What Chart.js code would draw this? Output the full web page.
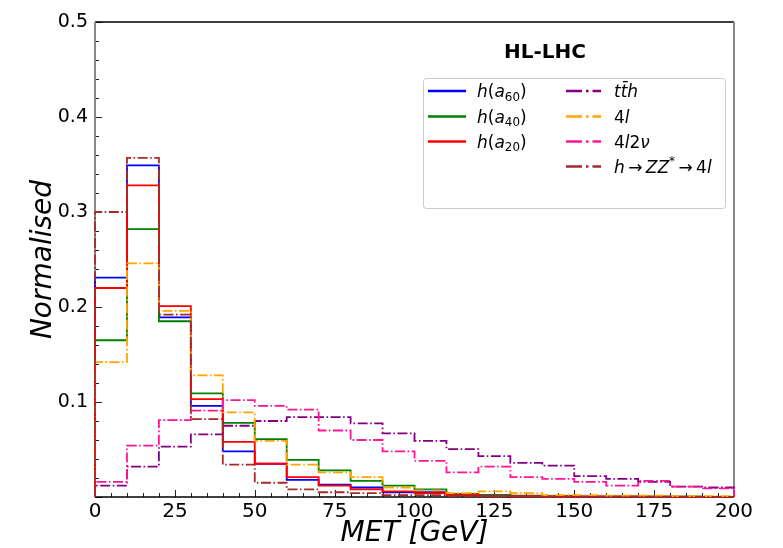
<!DOCTYPE html>
<html>
<head>
<meta charset="utf-8">
<script src="https://cdn.jsdelivr.net/npm/chart.js@4"></script>
<style>
  html, body { margin: 0; padding: 0; background: #fff; }
  canvas { display: block; }
</style>
</head>
<body>
<canvas id="met-chart" width="783" height="548"></canvas>
<script>
// bin edges of the MET histogram [GeV]
const binEdges = [0, 10, 20, 30, 40, 50, 60, 70, 80, 90, 100, 110, 120, 130, 140, 150, 160, 170, 180, 190, 200];

// normalised bin contents
const ha60 = [0.231, 0.349, 0.189, 0.096, 0.048, 0.035, 0.018, 0.013, 0.010, 0.005, 0.005, 0.003, 0.002, 0.001, 0.001, 0.0005, 0.0005, 0.0003, 0.0003, 0.0002];
const ha40 = [0.165, 0.282, 0.185, 0.109, 0.078, 0.061, 0.039, 0.028, 0.017, 0.012, 0.008, 0.003, 0.002, 0.0015, 0.001, 0.0005, 0.0005, 0.0003, 0.0003, 0.0002];
const ha20 = [0.220, 0.328, 0.201, 0.103, 0.058, 0.035, 0.021, 0.012, 0.008, 0.006, 0.004, 0.002, 0.001, 0.001, 0.0005, 0.0005, 0.0003, 0.0003, 0.0002, 0.0002];
const tth = [0.012, 0.032, 0.053, 0.066, 0.075, 0.080, 0.084, 0.084, 0.0775, 0.067, 0.059, 0.0505, 0.043, 0.036, 0.033, 0.022, 0.019, 0.016, 0.011, 0.010];
const fourL = [0.142, 0.246, 0.196, 0.128, 0.089, 0.059, 0.034, 0.026, 0.021, 0.010, 0.007, 0.004, 0.006, 0.004, 0.002, 0.002, 0.0015, 0.0015, 0.001, 0.001];
const fourL2nu = [0.016, 0.054, 0.081, 0.091, 0.102, 0.096, 0.092, 0.070, 0.060, 0.048, 0.038, 0.026, 0.032, 0.021, 0.019, 0.016, 0.012, 0.017, 0.011, 0.009];
const hzz4l = [0.300, 0.357, 0.192, 0.082, 0.034, 0.015, 0.008, 0.005, 0.004, 0.002, 0.002, 0.001, 0.001, 0.0005, 0.0005, 0.0003, 0.0003, 0.0002, 0.0002, 0.0001];

const xTicks = [0, 25, 50, 75, 100, 125, 150, 175, 200];
const yTicks = [0.1, 0.2, 0.3, 0.4, 0.5];

const FONT = '"DejaVu Sans", sans-serif';
const DASHDOT = [10, 2.5, 1.6, 2.5];

// legend labels as pieces: it = italic, sub / sup = small shifted text
const series = [
  { vals: ha60, color: '#0000ff', dash: [], col: 0, row: 0,
    label: [{ t: 'h', it: 1 }, { t: '(' }, { t: 'a', it: 1 }, { t: '60', sub: 1 }, { t: ')' }] },
  { vals: ha40, color: '#008000', dash: [], col: 0, row: 1,
    label: [{ t: 'h', it: 1 }, { t: '(' }, { t: 'a', it: 1 }, { t: '40', sub: 1 }, { t: ')' }] },
  { vals: ha20, color: '#ff0000', dash: [], col: 0, row: 2,
    label: [{ t: 'h', it: 1 }, { t: '(' }, { t: 'a', it: 1 }, { t: '20', sub: 1 }, { t: ')' }] },
  { vals: tth, color: '#800080', dash: DASHDOT, col: 1, row: 0,
    label: [{ t: 'tt\u0304h', it: 1 }] },
  { vals: fourL, color: '#ffa500', dash: DASHDOT, col: 1, row: 1,
    label: [{ t: '4' }, { t: 'l', it: 1 }] },
  { vals: fourL2nu, color: '#ff1493', dash: DASHDOT, col: 1, row: 2,
    label: [{ t: '4' }, { t: 'l', it: 1 }, { t: '2' }, { t: '\u03bd', it: 1 }] },
  { vals: hzz4l, color: '#a52a2a', dash: DASHDOT, col: 1, row: 3,
    label: [{ t: 'h', it: 1 }, { t: '\u2009\u2192\u2009' }, { t: 'ZZ', it: 1 }, { t: '*', sup: 1 },
            { t: '\u2009\u2192\u2009' }, { t: '4' }, { t: 'l', it: 1 }] },
];

// histogram outline: up from zero at the first edge, flat over each bin, back to zero
function stepPoints(vals) {
  const pts = [{ x: binEdges[0], y: 0 }];
  vals.forEach((v, i) => pts.push({ x: binEdges[i], y: v }));
  const last = binEdges[vals.length];
  pts.push({ x: last, y: vals[vals.length - 1] });
  pts.push({ x: last, y: 0 });
  return pts;
}

function drawRich(ctx, pieces, x, y, size) {
  ctx.textBaseline = 'alphabetic';
  ctx.textAlign = 'left';
  pieces.forEach((p) => {
    const small = p.sub || p.sup;
    const s = small ? size * 0.7 : size;
    ctx.font = (p.it ? 'italic ' : '') + s + 'px ' + FONT;
    let dy = 0;
    if (p.sub) dy = size * 0.22;
    if (p.sup) dy = -size * 0.42;
    ctx.fillText(p.t, x, y + dy);
    x += ctx.measureText(p.t).width;
  });
}

const frameAndTicks = {
  id: 'frameAndTicks',
  beforeDatasetsDraw(chart) {
    const { ctx, chartArea: a, scales } = chart;
    ctx.save();
    ctx.strokeStyle = '#222';
    ctx.lineWidth = 1;
    // inward ticks, bottom axis
    for (let v = 0; v <= 200; v += 5) {
      const px = Math.round(scales.x.getPixelForValue(v)) + 0.5;
      const len = v % 25 === 0 ? 7 : 4;
      ctx.beginPath();
      ctx.moveTo(px, a.bottom);
      ctx.lineTo(px, a.bottom - len);
      ctx.stroke();
    }
    // inward ticks, left axis
    for (let k = 0; k <= 25; k++) {
      const py = Math.round(scales.y.getPixelForValue(k * 0.02)) + 0.5;
      const len = k % 5 === 0 ? 7 : 4;
      ctx.beginPath();
      ctx.moveTo(a.left, py);
      ctx.lineTo(a.left + len, py);
      ctx.stroke();
    }
    // spines
    ctx.strokeStyle = '#000';
    ctx.lineWidth = 1.3;
    ctx.beginPath();
    ctx.moveTo(a.left, a.top); ctx.lineTo(a.right, a.top);
    ctx.moveTo(a.left, a.bottom); ctx.lineTo(a.right, a.bottom);
    ctx.stroke();
    ctx.strokeStyle = '#888';
    ctx.lineWidth = 2;
    ctx.beginPath();
    ctx.moveTo(a.left, a.top); ctx.lineTo(a.left, a.bottom);
    ctx.moveTo(a.right, a.top); ctx.lineTo(a.right, a.bottom);
    ctx.stroke();
    ctx.restore();
  },
  afterDraw(chart) {
    const ctx = chart.ctx;
    ctx.save();
    // legend box
    ctx.fillStyle = 'rgba(255,255,255,0.8)';
    ctx.strokeStyle = '#cccccc';
    ctx.lineWidth = 1;
    ctx.beginPath();
    ctx.roundRect(423.5, 78.5, 302, 130, 3);
    ctx.fill();
    ctx.stroke();

    ctx.fillStyle = '#000';
    ctx.font = 'bold 20px ' + FONT;
    ctx.textAlign = 'center';
    ctx.textBaseline = 'middle';
    ctx.fillText('HL-LHC', 545, 53);

    const rowY = [91, 116.5, 141.5, 166.5];
    const handleX = [[428, 466], [566, 601]];
    const textX = [477, 614];
    series.forEach((s) => {
      const y = rowY[s.row];
      ctx.strokeStyle = s.color;
      ctx.lineWidth = 2.5;
      ctx.setLineDash(s.dash.length ? [16, 4, 2.5, 4] : []);
      ctx.beginPath();
      ctx.moveTo(handleX[s.col][0], y);
      ctx.lineTo(handleX[s.col][1], y);
      ctx.stroke();
      ctx.setLineDash([]);
      ctx.fillStyle = '#000';
      drawRich(ctx, s.label, textX[s.col], y + 6, 17);
    });
    ctx.restore();
  },
};

const datasets = series.map((s, i) => ({
  data: stepPoints(s.vals),
  borderColor: s.color,
  borderWidth: 1.8,
  borderDash: s.dash,
  stepped: 'before',
  pointRadius: 0,
  fill: false,
  clip: false,
  order: series.length - i,
}));

new Chart(document.getElementById('met-chart'), {
  type: 'line',
  data: { datasets: datasets },
  options: {
    responsive: false,
    animation: false,
    devicePixelRatio: 1,
    layout: { padding: { top: 22, right: 49, left: 0, bottom: 0 } },
    plugins: { legend: { display: false }, tooltip: { enabled: false } },
    scales: {
      x: {
        type: 'linear',
        min: 0,
        max: 200,
        afterFit: (scale) => { scale.height = 51; },
        afterBuildTicks: (scale) => { scale.ticks = xTicks.map((v) => ({ value: v })); },
        grid: { display: false, drawTicks: false },
        border: { display: false },
        ticks: { color: '#000', padding: 3, maxRotation: 0, font: { family: FONT, size: 20 } },
        title: {
          display: true,
          text: 'MET [GeV]',
          color: '#000',
          padding: { top: 0, bottom: -3 },
          font: { family: FONT, size: 28, style: 'italic', lineHeight: 1.2 },
        },
      },
      y: {
        min: 0,
        max: 0.5,
        afterFit: (scale) => { scale.width = 95; },
        afterBuildTicks: (scale) => { scale.ticks = yTicks.map((v) => ({ value: v })); },
        grid: { display: false, drawTicks: false },
        border: { display: false },
        ticks: {
          color: '#000',
          padding: 7,
          font: { family: FONT, size: 19 },
          callback: (v) => v.toFixed(1),
        },
        title: {
          display: true,
          text: 'Normalised',
          color: '#000',
          padding: { top: 27, bottom: 0 },
          font: { family: FONT, size: 28, style: 'italic', lineHeight: 1.2 },
        },
      },
    },
  },
  plugins: [frameAndTicks],
});
</script>
</body>
</html>
